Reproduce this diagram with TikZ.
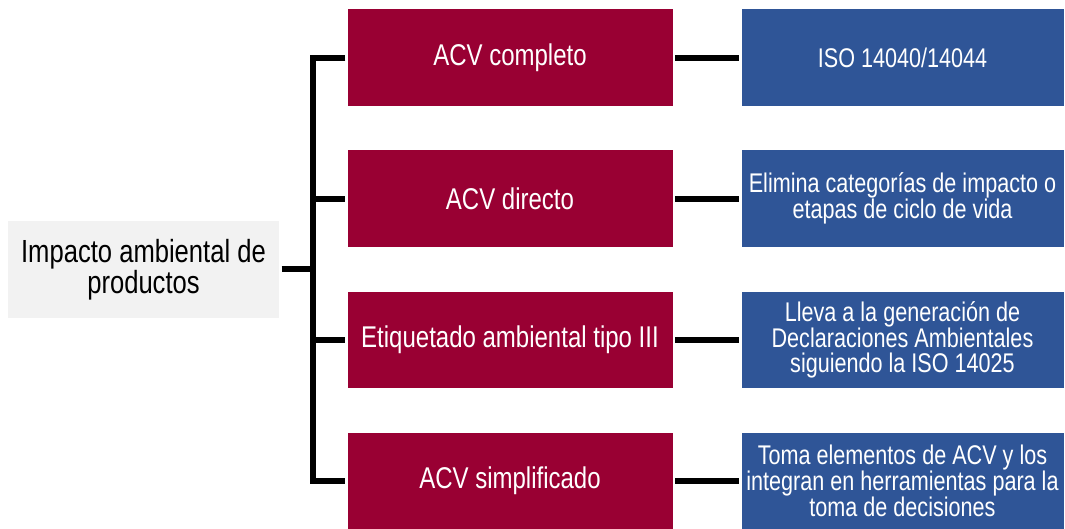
\documentclass[tikz,border=0pt]{standalone}
\usepackage{fontspec}
\setmainfont{Liberation Sans}[FakeStretch=0.8]
\definecolor{acvred}{HTML}{990033}
\definecolor{acvblue}{HTML}{2F5597}
\definecolor{acvgray}{HTML}{F2F2F2}
\usepackage{tikz}
\usetikzlibrary{positioning, calc}

\begin{document}
\begin{tikzpicture}[x=1pt, y=-1pt,
    rootbox/.style={fill=acvgray, text=black, minimum width=271pt, minimum height=97.5pt,
                    inner sep=0pt, align=center, font=\fontsize{32}{31}\selectfont},
    methodbox/.style={fill=acvred, text=white, minimum width=325pt, minimum height=96.5pt,
                      inner sep=0pt, align=center, font=\fontsize{30}{30}\selectfont},
    notebox/.style={fill=acvblue, text=white, minimum width=322pt, minimum height=96.5pt,
                    inner sep=0pt, align=center, font=\fontsize{27}{25}\selectfont},
    conn/.style={line width=6pt, black}]
    \useasboundingbox (0,0) rectangle (1065,529);
    % root node on the left
    \node[rootbox] (impacto) at (143.5,269.5) {Impacto ambiental de\\productos};
    % column of methods (red)
    \node[methodbox] (completo)    at (510,57.75)  {ACV completo};
    \node[methodbox] (directo)     at (510,198.75) {ACV directo};
    \node[methodbox] (etiquetado)  at (510,339.75) {Etiquetado ambiental tipo III};
    \node[methodbox] (simplificado) at (510,480.75) {ACV simplificado};
    % column of notes (blue)
    \node[notebox] (iso)      at (902.5,57.75)  {ISO 14040/14044};
    \node[notebox] (elimina)  at (902.5,198.75) {Elimina categorías de impacto o\\etapas de ciclo de vida};
    \node[notebox] (lleva)    at (902.5,339.75) {Lleva a la generación de\\Declaraciones Ambientales\\siguiendo la ISO 14025};
    \node[notebox] (toma)     at (902.5,480.75) {Toma elementos de ACV y los\\integran en herramientas para la\\toma de decisiones};
    % bracket
    \coordinate (bus) at (313,0);
    \draw[conn, shorten <=2.5pt] (impacto.east) -- (impacto.east -| bus);
    \draw[conn, shorten <=2pt, shorten >=2pt] (completo.west) -- (completo.west -| bus)
          -- (simplificado.west -| bus) -- (simplificado.west);
    \draw[conn, shorten >=2pt] (directo.west -| bus) -- (directo.west);
    \draw[conn, shorten >=2pt] (etiquetado.west -| bus) -- (etiquetado.west);
    % methods to notes
    \draw[conn, shorten <=2.5pt, shorten >=2.5pt] (completo.east) -- (iso.west);
    \draw[conn, shorten <=2.5pt, shorten >=2.5pt] (directo.east) -- (elimina.west);
    \draw[conn, shorten <=2.5pt, shorten >=2.5pt] (etiquetado.east) -- (lleva.west);
    \draw[conn, shorten <=2.5pt, shorten >=2.5pt] (simplificado.east) -- (toma.west);
\end{tikzpicture}
\end{document}
